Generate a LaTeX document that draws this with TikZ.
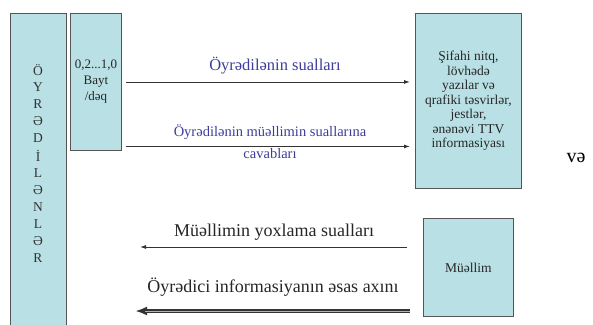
\documentclass[tikz,border=0pt]{standalone}
\usepackage{fontspec}
\setmainfont{Liberation Serif}
\usetikzlibrary{arrows.meta}

\definecolor{qutu}{HTML}{B9E0E4}
\definecolor{cizgi}{HTML}{555555}
\definecolor{sual}{HTML}{3C3C9C}

\tikzset{
  blok/.style={draw=cizgi, fill=qutu, line width=0.9pt, inner sep=0pt, anchor=north west,
    align=center, font=\fontsize{13.5}{14.5}\selectfont, text=black!85},
  harf/.style={font=\fontsize{13.5}{14}\selectfont, text=black!80},
  ox/.style={-{Latex[length=6pt,width=4pt]}, line width=0.9pt, draw=black!80},
  qalin/.style={-{Latex[length=12pt,width=9pt]}, line width=4pt, draw=black!80},
  yazi/.style={font=\fontsize{18}{21}\selectfont, align=center}
}

\begin{document}
\begin{tikzpicture}[x=1pt,y=-1pt]
\useasboundingbox (0,0) rectangle (593,324);

% qutular
\node[blok, minimum width=56pt, minimum height=330pt] (oyr) at (10,13) {};
\foreach \h [count=\i] in {Ö,Y,R,Ə,D,İ,L,Ə,N,L,Ə,R}
  \node[harf] (h\i) at (38,52.9+17.1*\i) {\h};

\node[blok, minimum width=51pt, minimum height=137pt, font=\fontsize{13}{16}\selectfont]
  (qiy) at (70,13) {0,2...1,0\\ Bayt\\ /dəq};

\node[blok, minimum width=106pt, minimum height=175pt] (form) at (415,13)
  {Şifahi nitq,\\ lövhədə\\ yazılar və\\ qrafiki təsvirlər,\\ jestlər,\\ ənənəvi TTV\\ informasiyası};

\node[blok, minimum width=90pt, minimum height=98pt, font=\fontsize{13.5}{16}\selectfont]
  (mel) at (423,218) {Müəllim};

% oxlar
\coordinate (o1) at ([xshift=4pt]qiy.east);
\coordinate (o2) at ([shift={(4pt,-64.5pt)}]qiy.east);
\draw[ox, shorten >=5pt] (o1) -- (o1 -| form.west);
\draw[ox, shorten >=5pt] (o2) -- (o2 -| form.west);

\coordinate (o3) at (140,247);
\coordinate (o4) at (135,311);
\draw[ox] ([xshift=-16pt]mel.west |- o3) -- (o3);
\draw[qalin] ([xshift=-13pt]mel.west |- o4) -- (o4);
\draw[gray!60, line width=1pt, shorten >=10pt] ([xshift=-13pt]mel.west |- o4) -- (o4);

% yazilar
\node[yazi, text=sual, font=\fontsize{16.5}{19}\selectfont] (s1) at (275,66) {Öyrədilənin sualları};
\node[yazi, text=sual, font=\fontsize{14.5}{22}\selectfont] (s2) at (270,142)
  {Öyrədilənin müəllimin suallarına\\ cavabları};
\node[yazi, text=black!85] (s3) at (274,232) {Müəllimin yoxlama sualları};
\node[yazi, text=black!85] (s4) at (273,287) {Öyrədici informasiyanın əsas axını};

\node[font=\fontsize{20}{24}\selectfont] (ve) at (576,158) {və};
\end{tikzpicture}
\end{document}
